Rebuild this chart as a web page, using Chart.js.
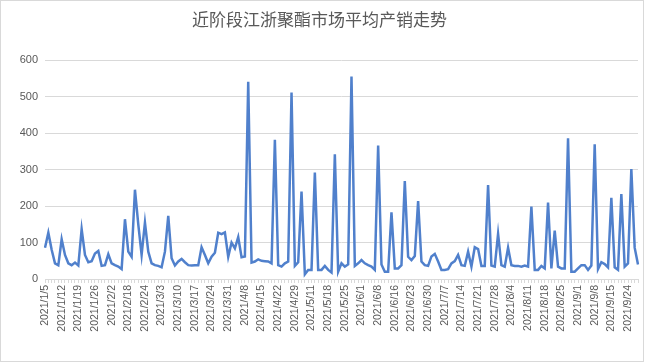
<!DOCTYPE html>
<html>
<head>
<meta charset="utf-8">
<script src="https://cdn.jsdelivr.net/npm/chart.js@4.4.1/dist/chart.umd.min.js"></script>
<style>
  body { margin: 0; background: #fff; }
  #box { width: 642px; height: 360px; border: 1px solid #d9d9d9; }
</style>
</head>
<body>
<div id="box"><canvas id="trendChart" width="642" height="360"></canvas></div>
<script>
  const title = '近阶段江浙聚酯市场平均产销走势';

  // trading days, 2021
  const days = [
    '1/5', '1/6', '1/7', '1/8', '1/11', '1/12', '1/13', '1/14', '1/15', '1/18',
    '1/19', '1/20', '1/21', '1/22', '1/25', '1/26', '1/27', '1/28', '1/29', '2/1',
    '2/2', '2/3', '2/4', '2/5', '2/8', '2/18', '2/19', '2/20', '2/22', '2/23',
    '2/24', '2/25', '2/26', '3/1', '3/2', '3/3', '3/4', '3/5', '3/8', '3/9',
    '3/10', '3/11', '3/12', '3/15', '3/16', '3/17', '3/18', '3/19', '3/22', '3/23',
    '3/24', '3/25', '3/26', '3/29', '3/30', '3/31', '4/1', '4/2', '4/6', '4/7',
    '4/8', '4/9', '4/12', '4/13', '4/14', '4/15', '4/16', '4/19', '4/20', '4/21',
    '4/22', '4/23', '4/26', '4/27', '4/28', '4/29', '4/30', '5/6', '5/7', '5/10',
    '5/11', '5/12', '5/13', '5/14', '5/17', '5/18', '5/19', '5/20', '5/21', '5/24',
    '5/25', '5/26', '5/27', '5/28', '5/31', '6/1', '6/2', '6/3', '6/4', '6/7',
    '6/8', '6/9', '6/10', '6/11', '6/15', '6/16', '6/17', '6/18', '6/21', '6/22',
    '6/23', '6/24', '6/25', '6/28', '6/29', '6/30', '7/1', '7/2', '7/5', '7/6',
    '7/7', '7/8', '7/9', '7/12', '7/13', '7/14', '7/15', '7/16', '7/19', '7/20',
    '7/21', '7/22', '7/23', '7/26', '7/27', '7/28', '7/29', '7/30', '8/2', '8/3',
    '8/4', '8/5', '8/6', '8/9', '8/10', '8/11', '8/12', '8/13', '8/16', '8/17',
    '8/18', '8/19', '8/20', '8/23', '8/24', '8/25', '8/26', '8/27', '8/30', '8/31',
    '9/1', '9/2', '9/3', '9/6', '9/7', '9/8', '9/9', '9/10', '9/13', '9/14',
    '9/15', '9/16', '9/17', '9/22', '9/23', '9/24', '9/27', '9/28', '9/29'
  ];
  const labels = days.map(d => '2021/' + d);

  // average production/sales ratio (%)
  const values = [
    86, 127, 80, 43, 38, 109, 66, 43, 38, 45,
    37, 137, 66, 46, 49, 70, 77, 36, 38, 68,
    43, 38, 34, 27, 164, 75, 61, 245, 150, 66,
    155, 75, 43, 38, 36, 32, 75, 173, 57, 37,
    48, 55, 46, 38, 37, 38, 38, 87, 66, 43,
    61, 72, 127, 123, 128, 61, 100, 84, 115, 60,
    62, 541, 45, 48, 54, 50, 49, 48, 43, 382,
    38, 34, 43, 48, 512, 36, 46, 240, 13, 25,
    25, 292, 25, 25, 36, 25, 18, 342, 20, 43,
    34, 40, 556, 36, 43, 52, 43, 38, 34, 25,
    366, 40, 20, 20, 183, 29, 29, 38, 269, 61,
    52, 63, 214, 48, 38, 36, 62, 69, 48, 25,
    25, 27, 43, 49, 66, 38, 36, 75, 34, 87,
    82, 36, 36, 258, 37, 34, 124, 38, 34, 86,
    38, 36, 36, 34, 37, 34, 199, 25, 25, 36,
    29, 210, 29, 133, 34, 29, 29, 386, 20, 20,
    29, 38, 38, 25, 37, 370, 27, 46, 41, 32,
    223, 32, 25, 233, 34, 43, 302, 86, 40
  ];

  const yTicks = [0, 100, 200, 300, 400, 500, 600];

  const ctx = document.getElementById('trendChart').getContext('2d');

  const trendChart = new Chart(ctx, {
    type: 'line',
    data: {
      labels: labels,
      datasets: [{
        data: values,
        borderColor: '#5080cc',
        borderWidth: 2.5,
        tension: 0,
        pointRadius: 0,
        fill: false
      }]
    },
    options: {
      responsive: false,
      animation: false,
      layout: { padding: { left: 0, right: 5, top: 0, bottom: 0 } },
      plugins: {
        legend: { display: false },
        tooltip: { enabled: false },
        title: {
          display: true,
          text: title,
          color: '#595959',
          font: { family: '"Noto Sans CJK SC"', size: 17, weight: 'normal' },
          padding: { top: 8, bottom: 31 }
        }
      },
      scales: {
        x: {
          offset: false,
          grid: { drawOnChartArea: false, drawTicks: true, tickLength: 4, color: '#d9d9d9' },
          border: { color: '#d9d9d9' },
          ticks: {
            autoSkip: false,
            minRotation: 90,
            maxRotation: 90,
            padding: 2,
            color: '#595959',
            font: { family: '"Liberation Sans"', size: 10.5 },
            callback: function (val, idx) {
              return idx % 5 === 0 ? this.getLabelForValue(val) : '';
            }
          },
          afterFit: s => {
            s.height = 82;
            // rotated labels ask for side room we don't need
            s.paddingLeft = 0;
            s.paddingRight = 0;
          }
        },
        y: {
          min: yTicks[0],
          max: yTicks[yTicks.length - 1],
          grid: { color: '#d9d9d9', drawTicks: false },
          border: { display: false },
          ticks: {
            stepSize: 100,
            padding: 7,
            color: '#595959',
            font: { family: '"Liberation Sans"', size: 11 }
          },
          afterFit: s => { s.width = 44; }
        }
      }
    }
  });
</script>
</body>
</html>
